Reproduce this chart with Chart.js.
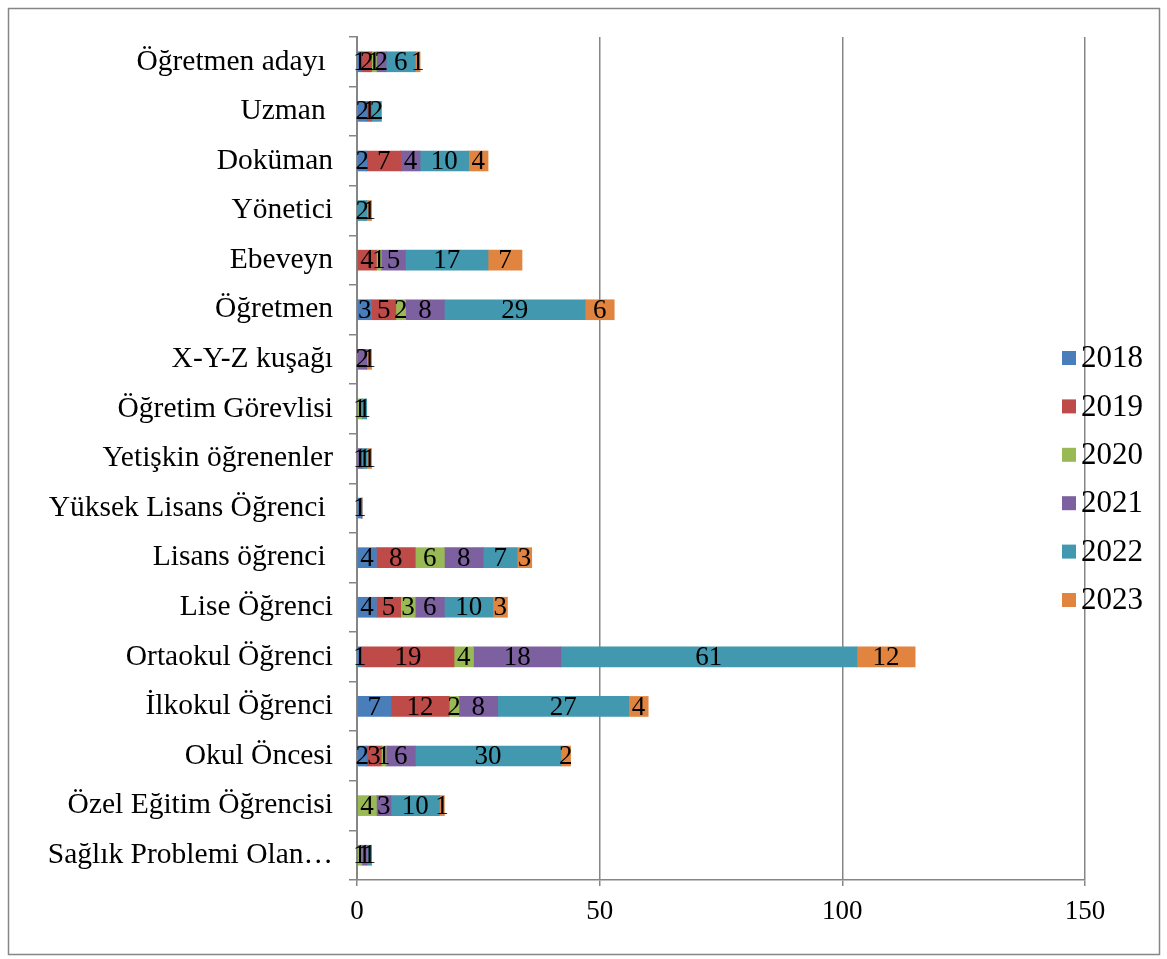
<!DOCTYPE html>
<html>
<head>
<meta charset="utf-8">
<script src="https://cdn.jsdelivr.net/npm/chart.js@4"></script>
<style>
  html, body { margin: 0; padding: 0; background: #fff; }
  #wrap { width: 1167px; height: 959px; }
</style>
</head>
<body>
<div id="wrap"><canvas id="chart" width="1167" height="959"></canvas></div>
<script>
// categories, top to bottom as in the picture
const categories = [
  'Öğretmen adayı ', 'Uzman ', 'Doküman', 'Yönetici', 'Ebeveyn', 'Öğretmen',
  'X-Y-Z kuşağı', 'Öğretim Görevlisi', 'Yetişkin öğrenenler', 'Yüksek Lisans Öğrenci ',
  'Lisans öğrenci ', 'Lise Öğrenci', 'Ortaokul Öğrenci', 'İlkokul Öğrenci',
  'Okul Öncesi', 'Özel Eğitim Öğrencisi', 'Sağlık Problemi Olan…'
];
const years = ['2018', '2019', '2020', '2021', '2022', '2023'];

const v2018 = [1, 2, 2, 0, 0, 3, 0, 0, 0, 1, 4, 4, 1, 7, 2, 0, 0];
const v2019 = [2, 1, 7, 0, 4, 5, 0, 0, 0, 0, 8, 5, 19, 12, 3, 0, 0];
const v2020 = [1, 0, 0, 0, 1, 2, 0, 1, 0, 0, 6, 3, 4, 2, 1, 4, 1];
const v2021 = [2, 0, 4, 0, 5, 8, 2, 0, 1, 0, 8, 6, 18, 8, 6, 3, 1];
const v2022 = [6, 2, 10, 2, 17, 29, 0, 1, 1, 0, 7, 10, 61, 27, 30, 10, 1];
const v2023 = [1, 0, 4, 1, 7, 6, 1, 0, 1, 0, 3, 3, 12, 4, 2, 1, 0];

const xTicks = [0, 50, 100, 150];
const colors = ['#4a7ebb', '#be4b48', '#98b954', '#7d60a0', '#4198af', '#e0843f'];

const serif = '"Liberation Serif", "Times New Roman", serif';
const grey = '#868686';

const series = [v2018, v2019, v2020, v2021, v2022, v2023];

// Frame + white background
const framePlugin = {
  id: 'frame',
  beforeDraw(chart) {
    const ctx = chart.ctx;
    ctx.save();
    ctx.fillStyle = '#fff';
    ctx.fillRect(0, 0, chart.width, chart.height);
    ctx.strokeStyle = grey;
    ctx.lineWidth = 1.5;
    ctx.strokeRect(8.5, 8.5, 1151, 946);
    ctx.restore();
  }
};

// Value labels inside each segment
const valueLabels = {
  id: 'valueLabels',
  afterDatasetsDraw(chart) {
    const ctx = chart.ctx;
    ctx.save();
    ctx.font = '27px ' + serif;
    ctx.fillStyle = '#000';
    ctx.textAlign = 'center';
    ctx.textBaseline = 'middle';
    chart.data.datasets.forEach((ds, i) => {
      const meta = chart.getDatasetMeta(i);
      meta.data.forEach((bar, j) => {
        const v = ds.data[j];
        if (!v) return;
        const p = bar.getProps(['x', 'y', 'base'], true);
        ctx.fillText(String(v), (p.x + p.base) / 2, p.y + 1);
      });
    });
    ctx.restore();
  }
};

// Legend on the right, drawn by hand so it does not shrink the plot
const sideLegend = {
  id: 'sideLegend',
  afterDraw(chart) {
    const ctx = chart.ctx;
    ctx.save();
    ctx.font = '31px ' + serif;
    ctx.textBaseline = 'middle';
    ctx.textAlign = 'left';
    chart.data.datasets.forEach((ds, i) => {
      const y = 358 + i * 48.4;
      ctx.fillStyle = ds.backgroundColor;
      ctx.fillRect(1062, y - 7, 14, 14);
      ctx.fillStyle = '#000';
      ctx.fillText(ds.label, 1081, y + 1);
    });
    ctx.restore();
  }
};

new Chart(document.getElementById('chart'), {
  type: 'bar',
  data: {
    labels: categories,
    datasets: years.map((y, i) => ({
      label: y,
      data: series[i],
      backgroundColor: colors[i],
      barThickness: 20
    }))
  },
  options: {
    indexAxis: 'y',
    responsive: false,
    animation: false,
    layout: { padding: { left: 0, right: 82, top: 37, bottom: 0 } },
    plugins: {
      legend: { display: false },
      tooltip: { enabled: false }
    },
    scales: {
      x: {
        stacked: true,
        min: 0,
        max: 150,
        afterBuildTicks: (scale) => { scale.ticks = xTicks.map(v => ({ value: v })); },
        afterFit: (scale) => { scale.height = 79; },
        border: { color: grey, width: 1.5 },
        grid: { color: grey, lineWidth: 1.5, tickLength: 6 },
        ticks: { color: '#000', font: { family: serif, size: 27 }, padding: 10 }
      },
      y: {
        stacked: true,
        afterFit: (scale) => { scale.width = 357; },
        border: { color: grey, width: 2 },
        grid: { color: grey, lineWidth: 1.5, drawOnChartArea: false, tickLength: 8, offset: true },
        ticks: { color: '#000', font: { family: serif, size: 29.5 }, padding: 16, autoSkip: false }
      }
    }
  },
  plugins: [framePlugin, valueLabels, sideLegend]
});
</script>
</body>
</html>
